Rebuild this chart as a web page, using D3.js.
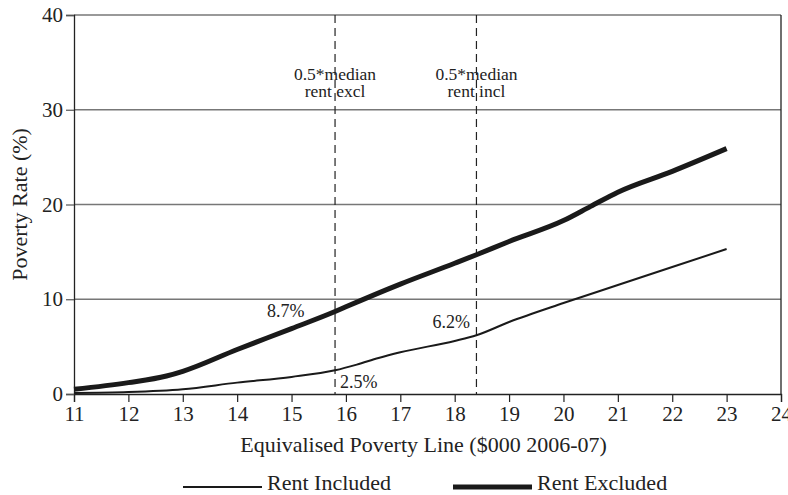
<!DOCTYPE html>
<html><head><meta charset="utf-8">
<script src="https://cdn.jsdelivr.net/npm/d3@7"></script>
<style>body{margin:0;background:#fff}svg{display:block}text{font-family:"Liberation Serif","Times New Roman",serif;fill:#222}</style>
</head><body>
<script>
const xTicks = [11,12,13,14,15,16,17,18,19,20,21,22,23,24];
const yTicks = [0,10,20,30,40];
const rentIncludedX = [11,12,13,14,15,15.8,16.2,16.6,17,18,18.4,19,20,21,22,23];
const rentIncludedY = [0.1,0.2,0.5,1.2,1.8,2.5,3.1,3.8,4.4,5.6,6.2,7.6,9.6,11.5,13.4,15.3];
const rentExcludedX = [11,12,12.7,13,14,15,15.8,16,17,18,18.4,19,20,20.5,21,22,23];
const rentExcludedY = [0.5,1.2,1.9,2.4,4.7,6.9,8.7,9.2,11.6,13.8,14.7,16.1,18.3,19.8,21.3,23.5,25.9];
const refLines = [{x:15.8, lines:["0.5*median","rent excl"]},{x:18.4, lines:["0.5*median","rent incl"]}];
const pointLabels = [{x:15.8,y:8.7,text:"8.7%",dx:-68,dy:5},{x:18.4,y:6.2,text:"6.2%",dx:-44,dy:-7},{x:15.8,y:2.5,text:"2.5%",dx:5,dy:18}];
const legendItems = [{name:"Rent Included",w:2},{name:"Rent Excluded",w:5}];

const W=788,H=495, m={l:74,r:7,t:15,b:101};
const svg=d3.select("body").append("svg").attr("width",W).attr("height",H);
const x=d3.scaleLinear().domain([11,24]).range([m.l,W-m.r]);
const y=d3.scaleLinear().domain([0,40]).range([H-m.b,m.t]);

// gridlines
svg.append("g").selectAll("line").data(yTicks.filter(d=>d>0)).join("line")
  .attr("x1",m.l).attr("x2",W-m.r).attr("y1",d=>y(d)).attr("y2",d=>y(d))
  .attr("stroke","#777").attr("stroke-width",1.3);
// right border
svg.append("line").attr("x1",W-m.r).attr("x2",W-m.r).attr("y1",y(40)).attr("y2",y(0)).attr("stroke","#222").attr("stroke-width",1.3);

// axes
const gx=svg.append("g").attr("transform",`translate(0,${y(0)})`)
  .call(d3.axisBottom(x).tickValues(xTicks).tickSize(8).tickPadding(4).tickFormat(d3.format("d")));
const gy=svg.append("g").attr("transform",`translate(${m.l},0)`)
  .call(d3.axisLeft(y).tickValues(yTicks).tickSize(8).tickPadding(3));
[gx,gy].forEach(g=>{g.select(".domain").attr("stroke","#222").attr("stroke-width",1.3);
  g.selectAll(".tick line").attr("stroke","#222").attr("stroke-width",1.2);
  g.selectAll("text").attr("font-size",21).attr("fill","#222").style("font-family","Liberation Serif");});
gy.selectAll(".tick line").attr("stroke","#555");

// reference lines
refLines.forEach(r=>{
  svg.append("line").attr("x1",x(r.x)).attr("x2",x(r.x)).attr("y1",y(40)).attr("y2",y(0))
    .attr("stroke","#222").attr("stroke-width",1.2).attr("stroke-dasharray","8,5");
  r.lines.forEach((t,i)=>svg.append("text").attr("x",x(r.x)).attr("y",80+i*17)
    .attr("text-anchor","middle").attr("font-size",17.5).text(t));
});

const line=d3.line().x(d=>x(d[0])).y(d=>y(d[1])).curve(d3.curveMonotoneX);
svg.append("path").datum(d3.zip(rentIncludedX,rentIncludedY)).attr("d",line)
  .attr("fill","none").attr("stroke","#1a1a1a").attr("stroke-width",2);
svg.append("path").datum(d3.zip(rentExcludedX,rentExcludedY)).attr("d",line)
  .attr("fill","none").attr("stroke","#1a1a1a").attr("stroke-width",5);

pointLabels.forEach(p=>svg.append("text").attr("x",x(p.x)+p.dx).attr("y",y(p.y)+p.dy)
  .attr("font-size",18).text(p.text));

// axis titles
svg.append("text").attr("x",(m.l+W-m.r)/2 - 4).attr("y",452).attr("text-anchor","middle").attr("font-size",22)
  .text("Equivalised Poverty Line ($000 2006-07)");
svg.append("text").attr("transform",`translate(27,${(y(0)+y(40))/2}) rotate(-90)`).attr("text-anchor","middle")
  .attr("font-size",22).text("Poverty Rate (%)");

// legend
const lx=[183,453];
legendItems.forEach((it,i)=>{
  svg.append("line").attr("x1",lx[i]).attr("x2",lx[i]+79).attr("y1",487).attr("y2",487)
    .attr("stroke","#1a1a1a").attr("stroke-width",it.w);
  svg.append("text").attr("x",lx[i]+84).attr("y",490).attr("font-size",22).text(it.name);
});
</script>
</body></html>
